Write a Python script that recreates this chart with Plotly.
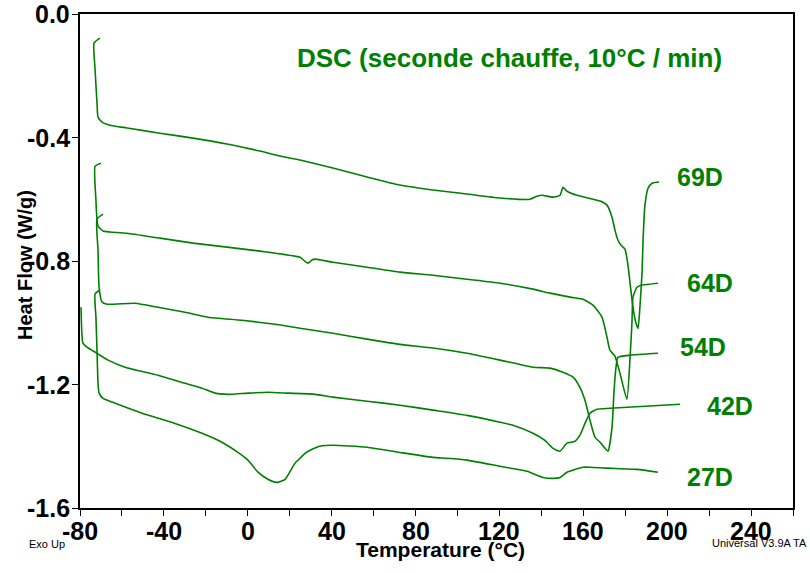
import plotly.graph_objects as go

# Second-heating DSC scans (10 °C/min), heat flow in W/g versus temperature in °C
t_69d = [-70.5, -73.3, -72.8, -71.9, -71.4, -69.5, -65.7, -57.6, -41.9, -26.1, -9.9, 5.8,
         15.4, 24.9, 40.6, 56.9, 72.6, 88.3, 104.5, 120.3, 134.6, 137.9, 140.3, 145.6,
         148.9, 150.3, 152.2, 157.0, 168.0, 171.3, 173.7, 175.1, 176.5, 178.0, 179.9,
         181.3, 182.3, 183.7, 185.1, 186.1, 187.0, 188.0, 188.5, 189.4, 190.9, 192.8, 196.1]
hf_69d = [-0.078, -0.094, -0.181, -0.288, -0.334, -0.350, -0.360, -0.369, -0.386, -0.402,
          -0.421, -0.444, -0.460, -0.473, -0.499, -0.528, -0.554, -0.570, -0.583, -0.596,
          -0.600, -0.590, -0.587, -0.593, -0.587, -0.561, -0.574, -0.587, -0.606, -0.619,
          -0.658, -0.700, -0.732, -0.749, -0.762, -0.813, -0.872, -0.950, -1.001, -1.018,
          -0.950, -0.839, -0.732, -0.619, -0.564, -0.548, -0.544]

t_64d = [-70.0, -72.8, -72.4, -71.9, -71.4, -69.0, -65.7, -57.6, -41.9, -26.1, -9.9, 5.8,
         24.9, 27.3, 28.7, 30.6, 32.1, 40.6, 56.9, 72.6, 88.3, 104.5, 120.3, 136.0, 144.1,
         153.7, 159.9, 164.6, 168.9, 171.3, 172.7, 175.1, 177.5, 180.8, 182.3, 183.2,
         183.7, 185.6, 188.0, 195.6]
hf_64d = [-0.483, -0.493, -0.603, -0.664, -0.687, -0.703, -0.706, -0.710, -0.726, -0.742,
          -0.755, -0.768, -0.788, -0.801, -0.807, -0.797, -0.794, -0.804, -0.820, -0.836,
          -0.846, -0.859, -0.872, -0.891, -0.904, -0.917, -0.924, -0.943, -0.982, -1.047,
          -1.089, -1.108, -1.164, -1.248, -1.112, -1.001, -0.917, -0.885, -0.878, -0.872]

t_54d = [-69.0, -71.9, -71.4, -70.9, -69.5, -67.1, -53.8, -42.8, -29.9, -19.0, -2.7, 13.0,
         24.9, 40.6, 56.9, 72.6, 88.3, 104.5, 120.3, 136.0, 144.1, 150.3, 155.1, 158.4,
         160.8, 163.2, 165.6, 168.0, 170.4, 171.8, 173.7, 174.6, 175.6, 176.5, 182.3, 195.6]
hf_54d = [-0.648, -0.664, -0.765, -0.885, -0.933, -0.940, -0.937, -0.950, -0.966, -0.982,
          -0.992, -1.005, -1.018, -1.034, -1.053, -1.070, -1.082, -1.099, -1.121, -1.144,
          -1.147, -1.160, -1.176, -1.209, -1.251, -1.316, -1.371, -1.387, -1.407, -1.416,
          -1.339, -1.228, -1.144, -1.112, -1.105, -1.099]

t_42d = [-79.5, -78.6, -76.7, -71.9, -66.6, -58.5, -42.8, -29.9, -21.8, -15.6, -9.4, 0.1,
         9.6, 19.2, 32.1, 40.6, 56.9, 72.6, 88.3, 104.5, 120.3, 126.5, 136.0, 141.7, 145.6,
         148.9, 152.2, 156.0, 158.4, 160.8, 163.2, 166.5, 172.7, 206.1]
hf_42d = [-0.950, -1.066, -1.079, -1.099, -1.121, -1.144, -1.170, -1.196, -1.212, -1.228,
          -1.232, -1.228, -1.225, -1.228, -1.232, -1.241, -1.254, -1.267, -1.283, -1.300,
          -1.322, -1.332, -1.358, -1.381, -1.407, -1.416, -1.390, -1.384, -1.364, -1.326,
          -1.293, -1.280, -1.277, -1.264]

t_27d = [-70.5, -72.8, -72.4, -71.9, -71.4, -70.9, -69.0, -64.7, -50.4, -34.7, -21.8, -12.3,
         -4.7, 0.1, 4.9, 9.6, 13.9, 17.8, 22.5, 24.9, 27.3, 29.7, 34.4, 40.6, 56.9, 72.6,
         88.3, 95.0, 104.5, 120.3, 133.2, 140.8, 145.6, 148.9, 152.2, 156.0, 159.9, 163.2,
         171.3, 185.6, 195.6]
hf_27d = [-0.894, -0.907, -0.982, -1.089, -1.196, -1.228, -1.245, -1.257, -1.293, -1.326,
          -1.358, -1.387, -1.420, -1.445, -1.484, -1.507, -1.517, -1.507, -1.455, -1.439,
          -1.423, -1.413, -1.400, -1.397, -1.403, -1.420, -1.436, -1.439, -1.445, -1.465,
          -1.481, -1.501, -1.504, -1.501, -1.484, -1.475, -1.468, -1.468, -1.471, -1.475,
          -1.484]

series_names = ["69D", "64D", "54D", "42D", "27D"]
series_t = [t_69d, t_64d, t_54d, t_42d, t_27d]
series_hf = [hf_69d, hf_64d, hf_54d, hf_42d, hf_27d]
# where each sample name is written, in data coordinates
label_t = [215.6, 220.4, 217.1, 230.0, 220.4]
label_hf = [-0.528, -0.871, -1.079, -1.270, -1.500]

x_tickvals = [-80, -40, 0, 40, 80, 120, 160, 200, 240]
x_ticktext = ["-80", "-40", "0", "40", "80", "120", "160", "200", "240"]
y_tickvals = [0.0, -0.4, -0.8, -1.2, -1.6]
y_ticktext = ["0.0", "-0.4", "-0.8", "-1.2", "-1.6"]

GREEN = "rgb(0,128,0)"
FONT = "Liberation Sans, Arial, sans-serif"


def bold(s):
    return "<b>" + s + "</b>"


fig = go.Figure()
for name, t, hf in zip(series_names, series_t, series_hf):
    fig.add_trace(go.Scatter(
        x=t, y=hf, mode="lines", name=name,
        line=dict(color=GREEN, width=1.6, shape="spline", smoothing=0.5),
        showlegend=False, hoverinfo="skip",
    ))

for name, lt, lh in zip(series_names, label_t, label_hf):
    fig.add_annotation(x=lt, y=lh, xref="x", yref="y", text=bold(name), showarrow=False,
                       xanchor="center", yanchor="middle",
                       font=dict(family=FONT, size=25, color=GREEN))

# tick labels written next to the axis ticks
for val, txt in zip(y_tickvals, y_ticktext):
    fig.add_annotation(x=-0.0112, y=val, xref="paper", yref="y", text=bold(txt),
                       showarrow=False, xanchor="right", yanchor="middle",
                       font=dict(family=FONT, size=25, color="black"))
for val, txt in zip(x_tickvals, x_ticktext):
    fig.add_annotation(x=val, y=-0.0466, xref="x", yref="paper", text=bold(txt),
                       showarrow=False, xanchor="center", yanchor="middle",
                       font=dict(family=FONT, size=25, color="black"))


def paper_text(x, y, text, size, color="black", angle=0):
    fig.add_annotation(x=x, y=y, xref="paper", yref="paper", text=text, showarrow=False,
                       xanchor="center", yanchor="middle", textangle=angle,
                       font=dict(family=FONT, size=size, color=color))


paper_text(0.6017, 0.911, bold("DSC (seconde chauffe, 10°C / min)"), 26, GREEN)
paper_text(0.5063, -0.083, bold("Temperature (°C)"), 21)
paper_text(-0.0771, 0.492, bold("Heat Flow (W/g)"), 20, angle=-90)
paper_text(-0.0463, -0.0729, "Exo Up", 11)
paper_text(0.9537, -0.0709, "Universal V3.9A TA", 11)

fig.update_xaxes(
    range=[-80, 260], showgrid=False, zeroline=False, automargin=False,
    showline=True, linecolor="black", linewidth=1.5, mirror=True,
    tickmode="array", tickvals=x_tickvals, showticklabels=False,
    ticks="outside", ticklen=6, tickwidth=1, tickcolor="black",
    minor=dict(dtick=20, tick0=-80, ticks="outside", ticklen=6, tickcolor="black", showgrid=False),
)
fig.update_yaxes(
    range=[-1.6, 0.0], showgrid=False, zeroline=False, automargin=False,
    showline=True, linecolor="black", linewidth=1.5, mirror=True,
    tickmode="array", tickvals=y_tickvals, showticklabels=False,
    ticks="outside", ticklen=6, tickwidth=1, tickcolor="black",
)

fig.update_layout(
    width=810, height=573,
    margin=dict(l=80, r=17, t=14, b=65, autoexpand=False),
    plot_bgcolor="white", paper_bgcolor="white",
)

fig.write_html("out.html")
